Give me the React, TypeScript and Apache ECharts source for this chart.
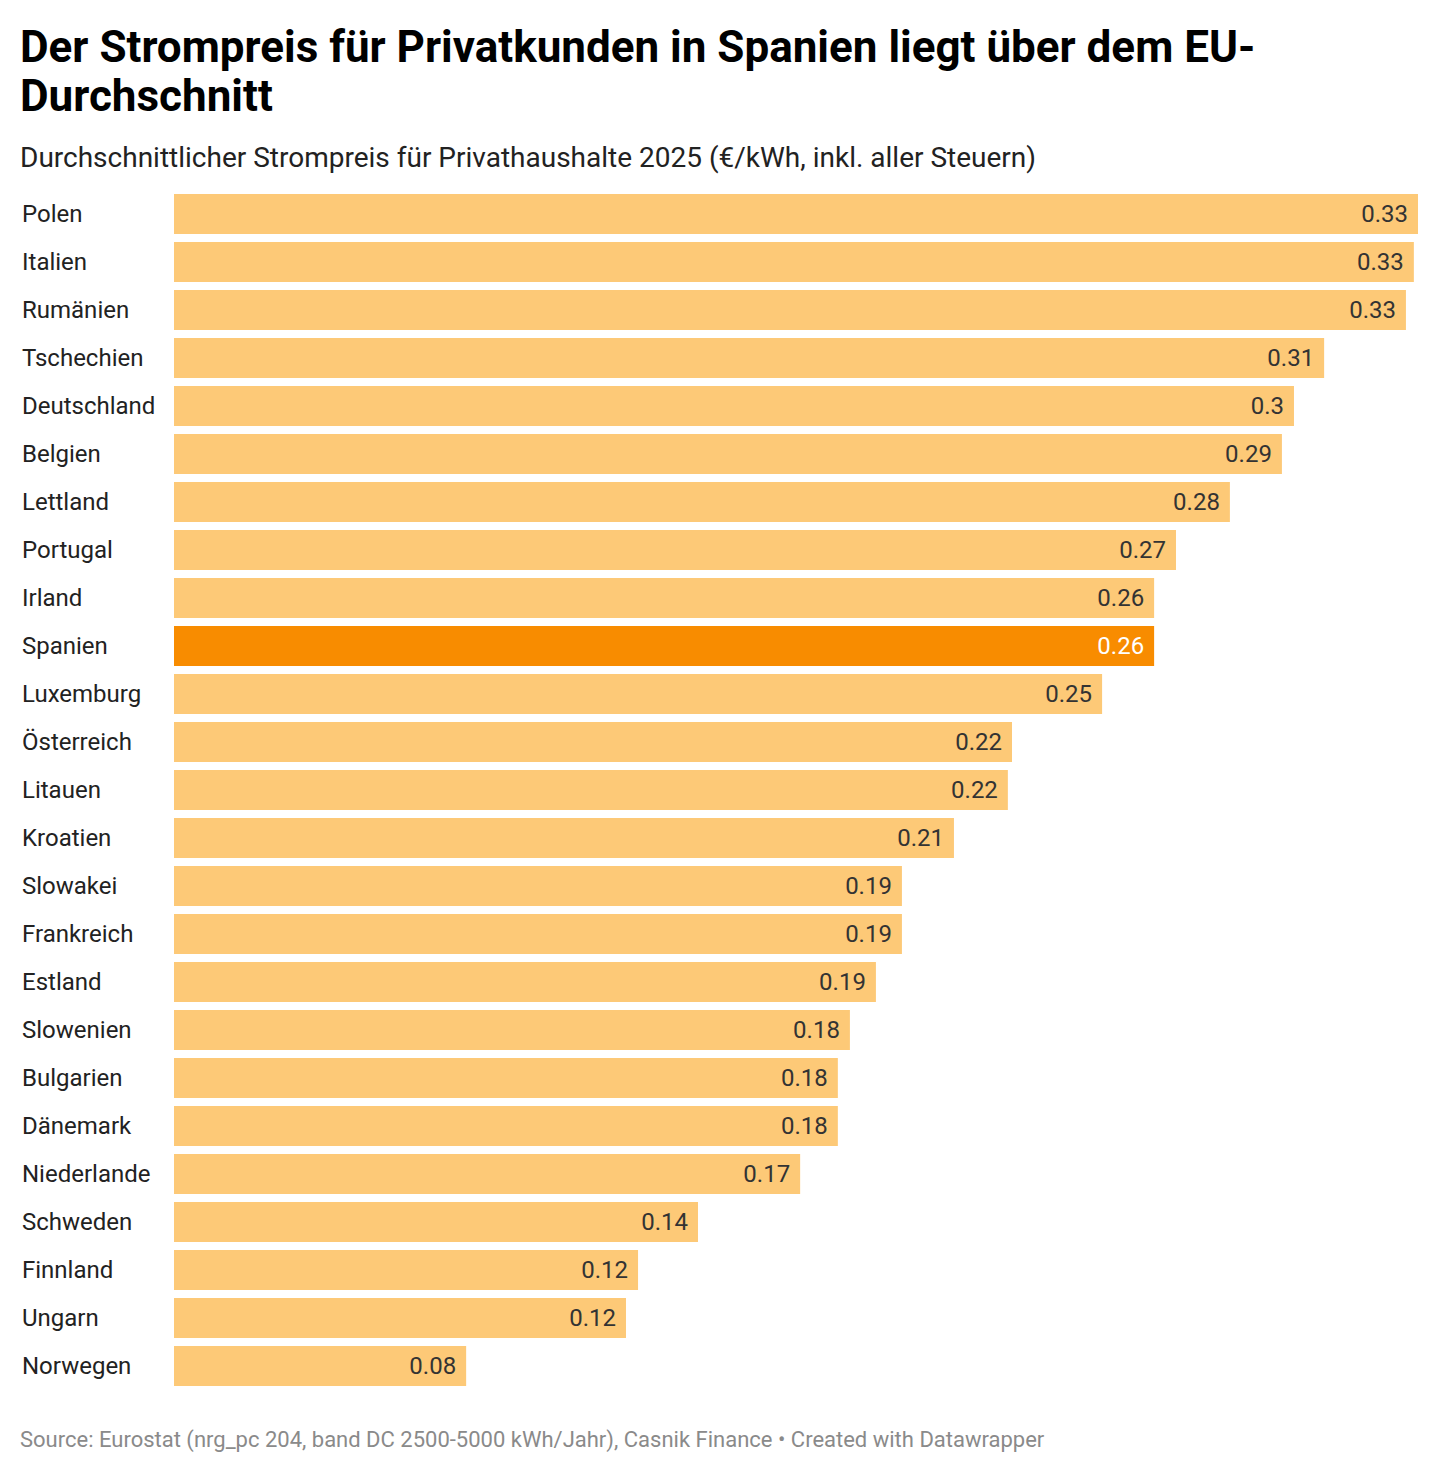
import React, { useEffect, useRef } from "react";
import * as echarts from "echarts";

// Household electricity prices 2025, €/kWh incl. all taxes, sorted descending
const countries = [
  "Polen", "Italien", "Rumänien", "Tschechien", "Deutschland", "Belgien",
  "Lettland", "Portugal", "Irland", "Spanien", "Luxemburg", "Österreich",
  "Litauen", "Kroatien", "Slowakei", "Frankreich", "Estland", "Slowenien",
  "Bulgarien", "Dänemark", "Niederlande", "Schweden", "Finnland", "Ungarn",
  "Norwegen",
];
const prices = [
  0.33, 0.3289, 0.3268, 0.3051, 0.2971, 0.2939,
  0.2801, 0.2658, 0.26, 0.26, 0.2462, 0.2223,
  0.2212, 0.2069, 0.1931, 0.1931, 0.1862, 0.1793,
  0.1761, 0.1761, 0.1661, 0.139, 0.1231, 0.1199,
  0.0775,
];
const highlighted = "Spanien";

const titleText = "Der Strompreis für Privatkunden in Spanien liegt über dem EU-\nDurchschnitt";
const subtitleText = "Durchschnittlicher Strompreis für Privathaushalte 2025 (€/kWh, inkl. aller Steuern)";
const sourceText = "Source: Eurostat (nrg_pc 204, band DC 2500-5000 kWh/Jahr), Casnik Finance • Created with Datawrapper";

const FONT = "Roboto, 'Noto Sans', sans-serif";
const BAR = "#fdc977";
const BAR_HI = "#f88c00";

// Value labels show two decimals without trailing zeros
const fmt = (v: number) => String(Number(v.toFixed(2)));

export default function App() {
  const ref = useRef<HTMLDivElement>(null);

  useEffect(() => {
    if (!ref.current) return;
    const chart = echarts.init(ref.current, undefined, { renderer: "svg" });

    const data = prices.map((v, i) => {
      const hi = countries[i] === highlighted;
      return {
        value: v,
        itemStyle: { color: hi ? BAR_HI : BAR },
        label: { color: hi ? "#ffffff" : "#333333" },
      };
    });

    chart.setOption({
      animation: false,
      backgroundColor: "#ffffff",
      title: [
        {
          text: titleText,
          left: 20,
          top: 22,
          padding: 0,
          textStyle: {
            fontFamily: FONT,
            fontWeight: "bold",
            fontSize: 44,
            lineHeight: 49,
            color: "#000000",
          },
        },
        {
          text: subtitleText,
          left: 20,
          top: 143,
          padding: 0,
          textStyle: {
            fontFamily: FONT,
            fontWeight: "normal",
            fontSize: 28,
            color: "#222222",
          },
        },
        {
          text: sourceText,
          left: 20,
          top: 1428,
          padding: 0,
          textStyle: {
            fontFamily: FONT,
            fontWeight: "normal",
            fontSize: 22,
            color: "#8a8a8a",
          },
        },
      ],
      grid: { left: 174, right: 22, top: 190, height: 1200, containLabel: false },
      xAxis: {
        type: "value",
        min: 0,
        max: 0.33,
        show: false,
      },
      yAxis: {
        type: "category",
        inverse: true,
        data: countries,
        axisLine: { show: false },
        axisTick: { show: false },
        splitLine: { show: false },
        axisLabel: {
          align: "left",
          margin: 152,
          fontFamily: FONT,
          fontSize: 24,
          color: "#222222",
        },
      },
      series: [
        {
          type: "bar",
          data,
          barWidth: 40,
          label: {
            show: true,
            position: "insideRight",
            distance: 10,
            fontFamily: FONT,
            fontSize: 24,
            formatter: (p: any) => fmt(p.value),
          },
        },
      ],
    });

    return () => chart.dispose();
  }, []);

  return (
    <div
      ref={ref}
      style={{ position: "absolute", left: 0, top: 0, width: 1440, height: 1472 }}
    />
  );
}
